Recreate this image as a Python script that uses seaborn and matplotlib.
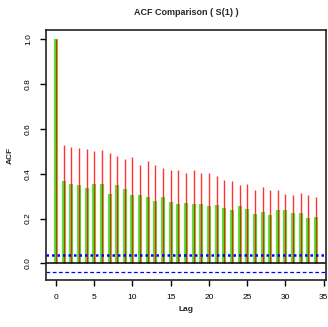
import numpy as np
import pandas as pd
import matplotlib
matplotlib.use("Agg")
import matplotlib.pyplot as plt
import seaborn as sns

# ACF values
lags = list(range(35))
acf_red = [1.0, 0.527, 0.519, 0.515, 0.509, 0.503, 0.505, 0.490, 0.478, 0.466,
           0.475, 0.437, 0.455, 0.438, 0.426, 0.416, 0.416, 0.405, 0.416, 0.405,
           0.401, 0.389, 0.371, 0.368, 0.349, 0.356, 0.326, 0.341, 0.326, 0.326,
           0.309, 0.304, 0.312, 0.307, 0.294]
acf_green = [1.0, 0.368, 0.356, 0.350, 0.335, 0.352, 0.353, 0.310, 0.349, 0.332,
             0.306, 0.304, 0.297, 0.280, 0.294, 0.274, 0.264, 0.268, 0.267, 0.266,
             0.255, 0.260, 0.246, 0.236, 0.257, 0.242, 0.218, 0.228, 0.216, 0.239,
             0.239, 0.224, 0.224, 0.202, 0.208]
conf_bound = 0.037
x_ticks = [0, 5, 10, 15, 20, 25, 30, 35]
y_ticks = [0.0, 0.2, 0.4, 0.6, 0.8, 1.0]

df = pd.DataFrame({"Lag": lags, "Red": acf_red, "Green": acf_green})

sns.set_style("ticks")
plt.rcParams['font.family'] = ['Liberation Sans', 'DejaVu Sans']

fig = plt.figure(figsize=(3.28, 3.27), dpi=100)
ax = fig.add_axes([0.140, 0.1437, 0.854, 0.7643])

ax.vlines(df["Lag"], 0, df["Green"], color="#22dd00", lw=3, alpha=0.75)
ax.vlines(df["Lag"], 0, df["Red"], color="red", lw=1.0, alpha=0.8)

ax.axhline(0, color="black", lw=1.1)
ax.axhline(conf_bound, color="blue", lw=1.8, ls=(0, (1, 1.2)))
ax.axhline(-conf_bound, color="blue", lw=0.9, ls=(0, (3, 2)))

ax.set_xlim(-1.31, 35.3)
ax.set_ylim(-0.074, 1.04)
ax.set_xticks(x_ticks)
ax.set_yticks(y_ticks)
ax.set_yticklabels([f"{v:.1f}" for v in y_ticks], rotation=90, va="center")
ax.tick_params(labelsize=6, length=4, width=1, colors="black", pad=6)

for s in ax.spines.values():
    s.set_linewidth(1.2)
    s.set_color("#222222")

ax.set_title("ACF Comparison ( S(1) )", fontsize=6.5, fontweight="bold", pad=11)
ax.set_xlabel("Lag", fontsize=6, fontweight="bold", labelpad=4)
ax.set_ylabel("ACF", fontsize=6, fontweight="bold", labelpad=8)

fig.savefig("out.png", dpi=100)
